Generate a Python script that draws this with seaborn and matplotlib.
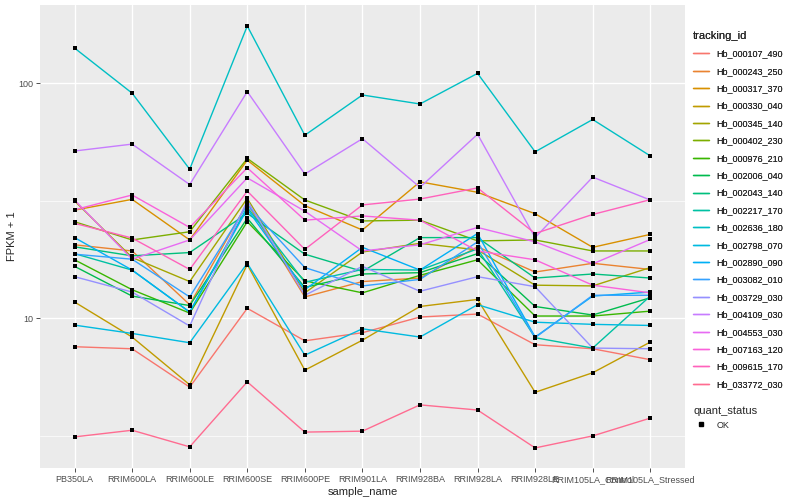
import matplotlib
matplotlib.use('Agg')
import matplotlib.pyplot as plt
from matplotlib.lines import Line2D
from matplotlib.ticker import FixedLocator, NullFormatter
import pandas as pd
import seaborn as sns

samples = ['PB350LA', 'RRIM600LA', 'RRIM600LE', 'RRIM600SE', 'RRIM600PE', 'RRIM901LA',
           'RRIM928BA', 'RRIM928LA', 'RRIM928LE', 'RRIM105LA_Control', 'RRIM105LA_Stressed']

tracking_ids = ['Hb_000107_490', 'Hb_000243_250', 'Hb_000317_370', 'Hb_000330_040',
                'Hb_000345_140', 'Hb_000402_230', 'Hb_000976_210', 'Hb_002006_040',
                'Hb_002043_140', 'Hb_002217_170', 'Hb_002636_180', 'Hb_002798_070',
                'Hb_002890_090', 'Hb_003082_010', 'Hb_003729_030', 'Hb_004109_030',
                'Hb_004553_030', 'Hb_007163_120', 'Hb_009615_170', 'Hb_033772_030']

# FPKM + 1, one list per gene, in sample order
hb_000107_490 = [7.55, 7.4, 5.08, 11.0, 8.0, 8.66, 10.1, 10.4, 7.7, 7.4, 6.65]
hb_000243_250 = [20.5, 19.3, 11.4, 30.8, 12.3, 14.3, 14.8, 20.1, 15.7, 17.1, 16.1]
hb_000317_370 = [28.8, 32.0, 21.5, 47.0, 30.1, 23.7, 38.0, 34.3, 27.8, 20.0, 22.7]
hb_000330_040 = [11.7, 8.3, 5.2, 16.9, 6.0, 8.05, 11.2, 12.0, 4.83, 5.85, 7.9]
hb_000345_140 = [31.5, 18.1, 14.3, 32.3, 12.8, 19.1, 20.8, 19.5, 13.8, 13.7, 16.4]
hb_000402_230 = [25.7, 21.5, 23.3, 47.8, 31.8, 25.9, 26.1, 21.3, 21.5, 19.3, 19.3]
hb_000976_210 = [17.7, 13.2, 10.5, 25.7, 14.4, 12.8, 15.2, 17.7, 10.2, 10.2, 10.7]
hb_002006_040 = [16.6, 12.4, 11.3, 26.6, 13.5, 15.4, 15.6, 18.8, 11.2, 10.3, 12.2]
hb_002043_140 = [20.1, 18.4, 19.0, 27.9, 18.7, 15.8, 22.0, 22.0, 14.8, 15.4, 14.8]
hb_002217_170 = [18.8, 16.0, 10.6, 29.6, 14.2, 16.1, 16.0, 19.7, 8.25, 7.45, 12.4]
hb_002636_180 = [141, 90.6, 43, 175, 60, 89, 81.5, 110, 51, 70, 49]
hb_002798_070 = [9.33, 8.6, 7.85, 17.1, 6.95, 9.0, 8.3, 11.4, 9.6, 9.4, 9.3]
hb_002890_090 = [22.0, 16.0, 10.6, 29.1, 13.2, 20.0, 16.0, 22.9, 8.3, 12.4, 12.9]
hb_003082_010 = [18.7, 17.8, 12.3, 30.3, 16.4, 13.7, 14.6, 21.1, 8.25, 12.5, 12.5]
hb_003729_030 = [15.0, 12.9, 9.25, 31.6, 12.5, 16.6, 13.0, 15.0, 13.6, 7.45, 7.4]
hb_004109_030 = [51.4, 55, 37, 92, 41, 58, 36, 60.6, 22, 39.8, 31.8]
hb_004553_030 = [31.8, 17.8, 21.5, 39.5, 28.5, 19.3, 20.5, 24.3, 21.1, 17.0, 21.6]
hb_007163_120 = [28.9, 33.4, 24.3, 43.6, 26.1, 27.2, 26.1, 19.3, 17.7, 13.8, 12.8]
hb_009615_170 = [25.3, 21.9, 16.1, 34.7, 19.6, 30.3, 32.1, 35.8, 22.9, 27.6, 31.9]
hb_033772_030 = [3.12, 3.33, 2.83, 5.35, 3.27, 3.3, 4.27, 4.06, 2.8, 3.15, 3.75]

series = [hb_000107_490, hb_000243_250, hb_000317_370, hb_000330_040, hb_000345_140,
          hb_000402_230, hb_000976_210, hb_002006_040, hb_002043_140, hb_002217_170,
          hb_002636_180, hb_002798_070, hb_002890_090, hb_003082_010, hb_003729_030,
          hb_004109_030, hb_004553_030, hb_007163_120, hb_009615_170, hb_033772_030]

# ggplot default hue palette for 20 levels
hue_colors = ['#F8766D', '#EA8331', '#D89000', '#C09B00', '#A3A500', '#7CAE00', '#39B600',
              '#00BB4E', '#00BF7D', '#00C1A3', '#00BFC4', '#00BAE0', '#00B0F6', '#35A2FF',
              '#9590FF', '#C77CFF', '#E76BF3', '#FA62DB', '#FF62BC', '#FF6C91']


def main():
    rows = []
    for tid, vals in zip(tracking_ids, series):
        for s, v in zip(samples, vals):
            rows.append({'sample_name': s, 'FPKM': v, 'tracking_id': tid, 'quant_status': 'OK'})
    df = pd.DataFrame(rows)
    df['sample_name'] = pd.Categorical(df['sample_name'], categories=samples, ordered=True)

    sns.set_style('darkgrid', {'axes.facecolor': '#EBEBEB', 'grid.color': 'white'})
    plt.rcParams['font.family'] = ['Liberation Sans', 'DejaVu Sans']

    fig = plt.figure(figsize=(8, 5), dpi=100)
    ax = fig.add_axes([0.05, 0.064, 0.806, 0.926])
    ax.set_yscale('log')

    sns.lineplot(data=df, x='sample_name', y='FPKM', hue='tracking_id', hue_order=tracking_ids,
                 palette=hue_colors, linewidth=1, estimator=None, legend=False, ax=ax)
    sns.scatterplot(data=df, x='sample_name', y='FPKM', color='black', marker='s', s=9,
                    linewidth=0, legend=False, ax=ax, zorder=3)

    ax.set_xlim(-0.6, len(samples) - 0.4)
    ax.set_ylim(2.3, 215)
    ax.set_xticks(range(len(samples)))
    ax.set_xticklabels(samples)
    ax.set_yticks([10, 100])
    ax.set_yticklabels(['10', '100'])
    ax.yaxis.set_minor_locator(FixedLocator([10 ** 0.5, 10 ** 1.5]))
    ax.yaxis.set_minor_formatter(NullFormatter())
    ax.grid(which='major', color='white', linewidth=1.0)
    ax.grid(which='minor', axis='y', color='white', linewidth=0.5)
    ax.tick_params(axis='both', which='major', length=3, width=0.6, color='#333333',
                   labelcolor='#4D4D4D', labelsize=6.5, pad=2, bottom=True, left=True)
    ax.tick_params(axis='y', which='minor', length=0)
    for sp in ax.spines.values():
        sp.set_visible(False)
    ax.set_xlabel('sample_name', fontsize=8, labelpad=2)
    ax.set_ylabel('FPKM + 1', fontsize=8, labelpad=1)

    handles = [Line2D([0], [0], color=c, lw=1) for c in hue_colors]
    leg1 = fig.legend(handles, tracking_ids, title='tracking_id', loc='upper left',
                      bbox_to_anchor=(0.862, 0.945), frameon=False, fontsize=6.5,
                      title_fontsize=8, handlelength=1.8, labelspacing=0.93,
                      alignment='left', borderaxespad=0)
    fig.add_artist(leg1)
    ok = [Line2D([0], [0], color='black', marker='s', markersize=3, lw=0)]
    fig.legend(ok, ['OK'], title='quant_status', loc='upper left',
               bbox_to_anchor=(0.862, 0.195), frameon=False, fontsize=6.5,
               title_fontsize=8, handlelength=1.8, alignment='left', borderaxespad=0)

    plt.savefig('out.png', dpi=100)


if __name__ == '__main__':
    main()
